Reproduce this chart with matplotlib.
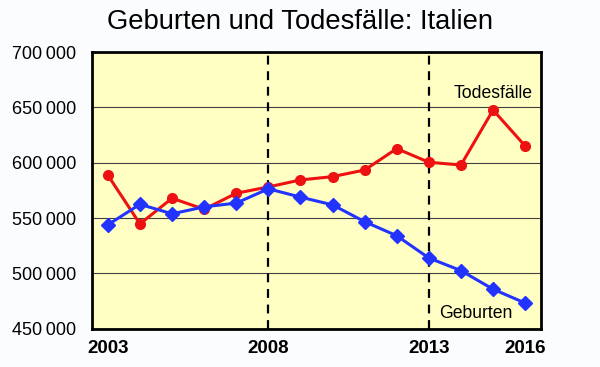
import matplotlib
matplotlib.use('Agg')
import matplotlib.pyplot as plt
import matplotlib.ticker as ticker

plt.rcParams['font.family'] = ['Liberation Sans', 'DejaVu Sans']

years = list(range(2003, 2017))
todesfaelle = [588800, 544800, 568000, 558000, 572500, 578200, 584500,
               587500, 593500, 612800, 600500, 598000, 647700, 615200]
geburten = [544000, 562500, 553900, 560200, 563600, 576500, 569000,
            562000, 546800, 534100, 514000, 502600, 485800, 473300]
xticks = [2003, 2008, 2013, 2016]
yticks = [450000, 500000, 550000, 600000, 650000, 700000]
markers_years = [2008, 2013]

fig = plt.figure(figsize=(6.0, 3.67), dpi=100)
fig.patch.set_facecolor('#fbfcfe')
ax = fig.add_axes([0.153, 0.104, 0.749, 0.754])
ax.set_facecolor('#ffffc4')

ax.plot(years, todesfaelle, color='#ee1111', linewidth=2.2, marker='o',
        markersize=7, zorder=4)
ax.plot(years, geburten, color='#2233ff', linewidth=2.2, marker='D',
        markersize=7, zorder=4)

for yr in markers_years:
    ax.axvline(yr, color='black', linewidth=1.6, linestyle=(0, (4, 3)), zorder=3)

ax.set_xlim(2002.5, 2016.5)
ax.set_ylim(450000, 700000)
ax.set_xticks(xticks)
ax.set_yticks(yticks)
ax.yaxis.set_major_formatter(ticker.FuncFormatter(
    lambda v, p: '{:,.0f}'.format(v).replace(',', '\u2009')))
ax.grid(axis='y', color='#404040', linewidth=0.8, zorder=1)
ax.tick_params(length=0)
ax.tick_params(axis='y', labelsize=13, pad=11)
ax.tick_params(axis='x', labelsize=13.5, pad=8)
for lab in ax.get_xticklabels():
    lab.set_fontweight('bold')
for sp in ax.spines.values():
    sp.set_linewidth(2)
    sp.set_color('black')

ax.text(2015.0, 663000, 'Todesfälle', fontsize=12.7, ha='center', va='center')
ax.text(2014.45, 463500, 'Geburten', fontsize=12.7, ha='center', va='center')

fig.text(0.5, 0.94, 'Geburten und Todesfälle: Italien', fontsize=19.7,
         ha='center', va='center')

fig.savefig('out.png', dpi=100, facecolor=fig.get_facecolor())
